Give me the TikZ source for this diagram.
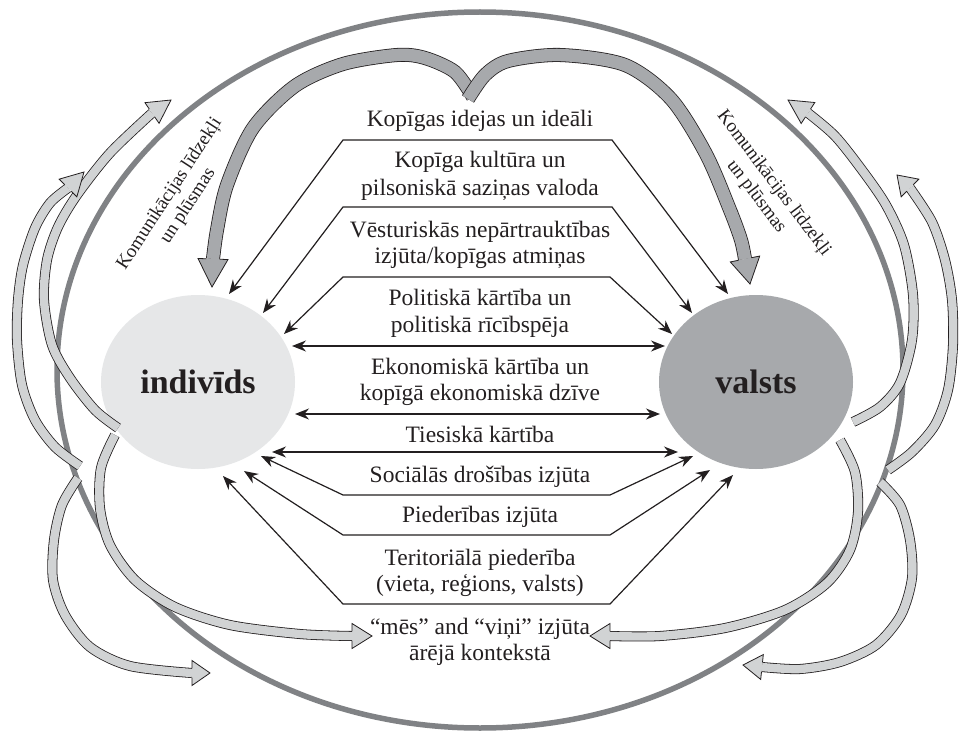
\documentclass[tikz,border=0pt]{standalone}
\usepackage{fontspec}
\setmainfont{Liberation Serif}
\usetikzlibrary{arrows.meta,calc,shapes.geometric}
\definecolor{ringgray}{HTML}{808285}
\definecolor{indfill}{HTML}{E6E7E8}
\definecolor{valfill}{HTML}{A7A9AC}
\definecolor{bandfill}{HTML}{D1D3D4}
\definecolor{archfill}{HTML}{A7A9AC}
\definecolor{ink}{HTML}{231F20}
% #1 fill, #2 outer width, #3 inner width, #4 half shaft, #5 half head, #6 points (ending at base), #7 base, #8 tip
\newcommand{\hollowarrow}[8]{%
  \draw[draw=ink, line width=#2, line cap=butt, line join=round] plot[smooth] coordinates {#6};
  \draw[draw=#1, line width=#3, line cap=butt, line join=round] plot[smooth] coordinates {#6};
  \filldraw[fill=#1, draw=ink, line width=0.8bp, line join=miter]
    ($(#7)!#4!90:(#8)$) -- ($(#7)!#5!90:(#8)$) -- (#8) -- ($(#7)!#5!-90:(#8)$) -- ($(#7)!#4!-90:(#8)$);
}
\begin{document}
\begin{tikzpicture}[x=1bp,y=-1bp,
  lbl/.style={font=\fontsize{23.5bp}{26.5bp}\selectfont, text=ink, inner sep=0pt, anchor=base},
  rotlbl/.style={font=\fontsize{19bp}{22bp}\selectfont, text=ink, inner sep=0pt, align=center},
  circ/.style={ellipse, minimum width=194bp, minimum height=174bp, inner sep=0pt,
     font=\fontsize{34bp}{40bp}\selectfont\bfseries, text=ink},
  conn/.style={draw=ink, line width=1.2bp, line join=miter,
     {Stealth[length=14bp,width=11bp]}-{Stealth[length=14bp,width=11bp]}}
]
\useasboundingbox (0,0) rectangle (960,734);
\fill[white] (0,0) rectangle (960,734);

% outer ring
\draw[ringgray, line width=5.5bp] (480,370) ellipse [x radius=423, y radius=358];

% circles
\node[circ, fill=indfill] (ind) at (198,382) {indivīds};
\node[circ, fill=valfill] (val) at (756,382) {valsts};

% texts
\node[lbl] (t1)  at (480,127) {Kopīgas idejas un ideāli};
\node[lbl] (t2a) at (480,168) {Kopīga kultūra un};
\node[lbl] (t2b) at (480,195) {pilsoniskā saziņas valoda};
\node[lbl] (t3a) at (480,237) {Vēsturiskās nepārtrauktības};
\node[lbl] (t3b) at (480,263) {izjūta/kopīgas atmiņas};
\node[lbl] (t4a) at (480,305) {Politiskā kārtība un};
\node[lbl] (t4b) at (480,332) {politiskā rīcībspēja};
\node[lbl] (t5a) at (480,374) {Ekonomiskā kārtība un};
\node[lbl] (t5b) at (480,400) {kopīgā ekonomiskā dzīve};
\node[lbl] (t6)  at (480,442) {Tiesiskā kārtība};
\node[lbl] (t7)  at (480,482) {Sociālās drošības izjūta};
\node[lbl] (t8)  at (480,522) {Piederības izjūta};
\node[lbl] (t9a) at (480,565) {Teritoriālā piederība};
\node[lbl] (t9b) at (480,591) {(vieta, reģions, valsts)};
\node[lbl] (t10a) at (480,634) {“mēs” and “viņi” izjūta};
\node[lbl] (t10b) at (480,660) {ārējā kontekstā};

\node[rotlbl, rotate=57]  (cl) at (179,200) {Komunikācijas līdzekļi\\un plūsmas};
\node[rotlbl, rotate=-53] (cr) at (765,190) {Komunikācijas līdzekļi\\un plūsmas};

% thin arrow end points
\coordinate (iA) at (229,294); \coordinate (vA) at (728,294);
\coordinate (iB) at (263,313); \coordinate (vB) at (692,313);
\coordinate (iC) at (284,334); \coordinate (vC) at (672,334);
\coordinate (iD) at (292,346); \coordinate (vD) at (665,346);
\coordinate (iE) at (295,414); \coordinate (vE) at (660,414);
\coordinate (iF) at (272,452); \coordinate (vF) at (678,452);
\coordinate (iG) at (261,456); \coordinate (vG) at (693,456);
\coordinate (iH) at (244,471); \coordinate (vH) at (710,470);
\coordinate (iI) at (223,476); \coordinate (vI) at (733,475);

\draw[conn] (iA) -- (343,140) -- (612,140) -- (vA);
\draw[conn] (iB) -- (343,207) -- (612,207) -- (vB);
\draw[conn] (iC) -- (343,277) -- (610,277) -- (vC);
\draw[conn] (iD) -- (vD);
\draw[conn] (iE) -- (vE);
\draw[conn] (iF) -- (vF);
\draw[conn] (iG) -- (343,495) -- (610,495) -- (vG);
\draw[conn] (iH) -- (343,535) -- (610,535) -- (vH);
\draw[conn] (iI) -- (343,604) -- (610,604) -- (vI);

% big grey arches
\coordinate (aLb) at (213,259); \coordinate (aLt) at (212,287);
\coordinate (aRb) at (745,259); \coordinate (aRt) at (750,284);
\hollowarrow{archfill}{14bp}{12.4bp}{6.6bp}{15bp}
  {(473,97) (455,72) (425,58) (397,55) (343,64) (295,86) (253,128) (227,185) (217,230) (aLb)}{aLb}{aLt}
\hollowarrow{archfill}{14bp}{12.4bp}{6.6bp}{15bp}
  {(468,99) (485,75) (508,61) (560,55) (625,65) (671,99) (706,154) (730,210) (741,240) (aRb)}{aRb}{aRt}

% light bands, left
\coordinate (Rb) at (152,113); \coordinate (Rt) at (171,100);
\coordinate (Pb) at (68,188);  \coordinate (Pt) at (84,172);
\coordinate (Qb) at (192,673); \coordinate (Qt) at (210,673);
\coordinate (Sb) at (352,636); \coordinate (St) at (372,636);
\hollowarrow{bandfill}{10bp}{8.4bp}{4.6bp}{12.5bp}
  {(118,428) (95,410) (70,378) (52,345) (44,300) (47,260) (58,227) (77,195) (110,153) (Rb)}{Rb}{Rt}
\hollowarrow{bandfill}{10bp}{8.4bp}{4.6bp}{12.5bp}
  {(80,466) (55,447) (35,420) (22,385) (17,340) (18,300) (23,265) (35,228) (50,203) (Pb)}{Pb}{Pt}
\hollowarrow{bandfill}{10bp}{8.4bp}{4.6bp}{12.5bp}
  {(78,478) (62,505) (54,540) (53,580) (65,615) (90,647) (130,666) (Qb)}{Qb}{Qt}
\hollowarrow{bandfill}{10bp}{8.4bp}{4.6bp}{12.5bp}
  {(115,435) (101,468) (100,508) (110,545) (135,580) (175,607) (230,625) (300,634) (Sb)}{Sb}{St}

% light bands, right
\coordinate (Tb) at (808,113); \coordinate (Tt) at (788,100);
\coordinate (Ub) at (910,188); \coordinate (Ut) at (897,175);
\coordinate (Vb) at (610,636); \coordinate (Vt) at (590,636);
\coordinate (Wb) at (762,667); \coordinate (Wt) at (743,665);
\hollowarrow{bandfill}{10bp}{8.4bp}{4.6bp}{12.5bp}
  {(853,422) (880,407) (900,383) (912,340) (913,295) (904,245) (886,205) (862,170) (835,136) (Tb)}{Tb}{Tt}
\hollowarrow{bandfill}{10bp}{8.4bp}{4.6bp}{12.5bp}
  {(888,470) (912,452) (935,425) (948,390) (953,345) (952,300) (945,260) (932,222) (Ub)}{Ub}{Ut}
\hollowarrow{bandfill}{10bp}{8.4bp}{4.6bp}{12.5bp}
  {(840,440) (855,472) (858,512) (850,550) (827,583) (785,610) (725,628) (660,636) (Vb)}{Vb}{Vt}
\hollowarrow{bandfill}{10bp}{8.4bp}{4.6bp}{12.5bp}
  {(880,482) (900,505) (910,540) (912,578) (901,615) (876,645) (840,662) (800,669) (Wb)}{Wb}{Wt}
\end{tikzpicture}
\end{document}
